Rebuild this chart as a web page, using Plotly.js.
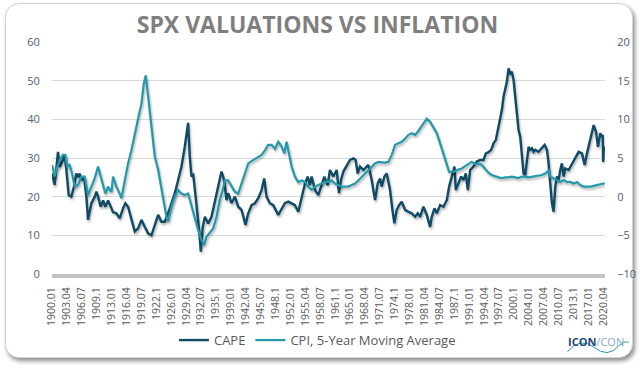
<!DOCTYPE html>
<html>
<head>
<meta charset="utf-8">
<script src="https://cdn.plot.ly/plotly-3.0.1.min.js"></script>
<style>
  html, body { margin: 0; padding: 0; background: #ffffff; }
  #wrap { position: relative; width: 640px; height: 370px; overflow: hidden; }
  #card { position: absolute; left: 5px; top: 3px; width: 626px; height: 353px;
          border: 1px solid #d4d4d4; border-radius: 14px; background: #ffffff;
          box-shadow: 2px 3px 4px rgba(0,0,0,0.45); }
  #chart { position: absolute; left: 0; top: 0; width: 640px; height: 370px; }
  #chart .scatterlayer .js-line { filter: drop-shadow(1.5px 2px 1.2px rgba(0,0,0,0.30)); }
</style>
</head>
<body>
<div id="wrap">
  <div id="card"></div>
  <div id="chart"></div>
</div>
<script>
// ---- data ----
const capeYears = [1900.0,1900.58,1901.31,1901.67,1902.4,1902.77,1903.13,1903.64,1904.22,1904.8,1905.31,1905.68,1906.04,1906.4,1906.99,1907.5,1907.86,1908.59,1909.32,1909.68,1910.04,1910.63,1911.14,1911.64,1912.23,1912.81,1913.32,1914.05,1914.77,1915.5,1916.01,1916.59,1917.32,1918.05,1918.78,1919.5,1920.23,1920.96,1921.69,1922.42,1923.14,1923.87,1924.6,1925.32,1926.05,1926.78,1927.51,1928.23,1928.96,1929.33,1929.69,1930.05,1930.42,1930.78,1931.15,1931.73,1932.16,1932.46,1932.89,1933.33,1934.06,1934.78,1935.51,1936.24,1936.97,1937.55,1938.06,1938.42,1939.15,1939.88,1940.61,1941.33,1942.21,1942.79,1943.52,1944.25,1944.97,1945.7,1946.28,1946.79,1947.52,1948.25,1949.34,1950.07,1950.8,1951.53,1952.25,1952.98,1953.71,1954.44,1955.17,1955.75,1956.26,1956.62,1957.35,1958.08,1958.8,1959.39,1960.11,1960.62,1961.35,1962.08,1962.59,1963.03,1963.54,1964.26,1964.99,1965.72,1966.23,1966.66,1967.17,1967.9,1968.63,1968.99,1969.72,1970.45,1971.03,1971.54,1971.91,1972.49,1973.0,1973.73,1974.24,1974.67,1975.18,1975.69,1976.27,1977.0,1977.73,1978.46,1979.19,1979.77,1980.28,1981.0,1981.73,1982.46,1982.82,1983.41,1983.92,1984.64,1985.37,1986.1,1986.61,1987.19,1987.77,1988.06,1988.65,1989.23,1989.74,1990.25,1990.69,1991.19,1991.92,1992.65,1993.38,1994.11,1994.62,1995.2,1995.78,1996.29,1996.8,1997.24,1997.75,1998.11,1998.48,1998.84,1999.2,1999.57,1999.93,2000.29,2000.66,2001.02,2001.39,2001.75,2002.11,2002.48,2002.84,2003.21,2003.57,2003.93,2004.3,2004.66,2005.03,2005.39,2006.12,2006.84,2007.43,2007.94,2008.3,2008.66,2009.03,2009.39,2009.76,2010.12,2010.48,2010.85,2011.21,2011.58,2011.94,2012.67,2013.4,2014.12,2014.85,2015.58,2016.16,2016.67,2017.4,2018.13,2018.64,2019.07,2019.58,2019.95,2020.1,2020.2,2020.3,2020.45];
const capeValues = [26,23,31.6,27.7,29.5,30.8,27,20.4,20,22.6,26,25,26,24.3,25,20,14,18.3,20,21.3,20,17.4,19,17.4,19,17.4,16,15.7,14.4,17,18.3,17.4,14,11,11.8,14,12.2,10.5,10,12.7,15.3,13.5,13.5,15.7,18.3,20.9,24.3,27.8,32.9,35.5,39.1,30.3,25.2,26,21.7,16.6,10.5,5.8,12.2,14.8,13.1,14.8,19.1,22.6,26.5,24.3,19.1,20.9,18.3,20,17.4,16.6,12.7,15.7,17.8,18.3,19.6,21.7,24.7,20,18.3,17.8,15.3,17,18.3,18.7,18.3,17.8,16.1,20,23.4,25.2,23,25.2,21.7,20.4,23.4,25.2,23,26.9,25.2,26.9,20.9,24.3,26.5,28.2,29.5,29.9,29.5,26,27.8,26.9,27.8,28.2,24.3,19.1,23.4,24.7,22.6,25.2,26,21.7,16.6,13.1,16.6,17.8,18.7,16.6,16.1,15.7,14.8,15.7,14.8,17.4,15.3,12.2,14.8,17,15.7,17.8,17.4,19.1,22.6,25.2,27.8,21.7,23.4,25.2,24.3,26,21.7,26.9,27.8,29.1,29.5,29.5,31.2,31.5,32.1,33.8,34.7,37.2,39.8,42.4,45.9,47.6,49.7,53.2,51.9,52.3,50.2,45.9,40.7,37.2,35.5,31.2,26,25.6,29.5,32.9,32.1,32.5,31.6,32.1,31.6,32.5,33.4,32.1,28.6,23.4,18.3,16.1,22.6,25.2,24.3,26.9,28.6,25.2,27.3,26.9,28.6,30.3,31.6,31.2,28.2,31.2,34.7,38.5,36.8,32.9,36.4,35.5,36,29,31.5,33];

const cpiYears = [1900.0,1900.58,1901.16,1901.67,1902.4,1902.91,1903.35,1903.86,1904.37,1904.95,1905.68,1906.4,1907.13,1907.86,1908.59,1909.32,1910.04,1910.63,1911.14,1911.64,1912.23,1912.95,1913.32,1914.05,1914.77,1915.14,1915.87,1916.59,1917.32,1918.05,1918.78,1919.5,1920.01,1920.45,1920.96,1921.69,1922.42,1923.14,1924.2,1924.96,1925.32,1926.05,1926.78,1927.51,1928.23,1928.96,1929.69,1930.42,1931.15,1931.87,1932.6,1933.18,1933.69,1934.42,1935.15,1935.88,1936.6,1937.33,1937.7,1938.42,1939.15,1939.88,1940.61,1941.33,1942.06,1942.79,1943.52,1944.25,1944.97,1945.7,1946.43,1947.16,1947.9,1948.62,1949.34,1950.07,1950.65,1951.16,1951.67,1952.25,1952.98,1953.71,1954.44,1955.17,1955.89,1956.62,1957.35,1958.08,1958.8,1959.53,1960.26,1960.99,1961.72,1962.44,1963.17,1963.9,1964.63,1965.36,1966.08,1966.81,1967.54,1968.27,1969.0,1969.72,1970.45,1971.18,1971.91,1972.64,1973.36,1974.09,1974.82,1975.55,1976.27,1977.0,1977.73,1978.46,1979.19,1979.77,1980.28,1981.0,1981.73,1982.46,1983.19,1983.92,1984.64,1985.37,1986.1,1986.61,1987.19,1987.92,1988.65,1989.37,1990.1,1990.83,1991.56,1992.29,1993.01,1993.74,1994.47,1995.2,1995.93,1996.66,1997.38,1998.11,1998.84,1999.57,2000.29,2001.02,2001.75,2002.48,2003.21,2003.93,2004.66,2005.39,2006.12,2006.84,2007.57,2008.3,2008.66,2009.39,2010.12,2010.85,2011.58,2012.3,2013.03,2013.76,2014.49,2015.21,2015.94,2016.67,2017.4,2018.13,2018.85,2019.58,2020.31,2020.45];
const cpiValues = [4.1,2.6,3.9,4.7,5.4,5.4,3.9,4.1,3.0,1.3,1.5,2.6,2.6,0.2,1.3,2.4,3.9,2.6,1.3,0.4,1.3,0.6,2.6,1.3,0.4,-0.2,2.1,4.3,6.0,8.2,10.1,12.0,14.6,15.7,12.9,8.6,5.2,3.5,0,-2.6,-3.2,-1.3,0,0.85,0.4,0.2,0.4,-1.3,-3.0,-4.3,-5.6,-6.25,-5.2,-4.7,-4.1,-2.6,-0.4,1.1,2.1,2.1,1.3,0.65,0.4,1.7,3.0,4.3,4.6,4.9,5.2,5.4,6.0,6.7,6.7,6.2,7.1,6.5,5.6,7.1,5.6,3.9,2.6,1.9,2.1,1.9,1.3,0.9,1.3,1.5,1.7,1.9,1.9,2.1,1.7,1.5,1.3,1.3,1.3,1.5,1.7,2.1,2.6,3.0,3.4,3.9,4.3,4.5,4.4,4.4,4.5,5.4,6.7,6.9,7.1,7.5,8.0,8.2,8.0,8.4,8.8,9.5,10.1,9.7,9.0,8.2,6.9,5.4,4.1,3.2,3.2,3.3,3.5,3.65,3.95,4.2,4.5,4.2,4.3,4.1,3.65,3.1,2.8,2.6,2.5,2.4,2.5,2.5,2.6,2.5,2.4,2.6,2.6,2.5,2.6,2.7,2.8,2.8,3.0,3.4,2.6,2.4,2.15,1.9,2.15,1.9,1.9,1.7,1.9,1.5,1.3,1.3,1.3,1.4,1.5,1.6,1.7,1.6];

const tickLabels = ["1900.01","1903.04","1906.07","1909.1","1913.01","1916.04","1919.07","1922.1","1926.01","1929.04","1932.07","1935.1","1939.01","1942.04","1945.07","1948.1","1952.01","1955.04","1958.07","1961.1","1965.01","1968.04","1971.07","1974.1","1978.01","1981.04","1984.07","1987.1","1991.01","1994.04","1997.07","2000.1","2004.01","2007.04","2010.07","2013.1","2017.01","2020.04"];
const leftTicks = [0,10,20,30,40,50,60];
const rightTicks = [-10,-5,0,5,10,15,20];

// tick positions derived from the labels (year.month, month written without trailing zero)
const tickVals = tickLabels.map(s => {
  const parts = s.split('.');
  const m = parseInt(parts[1].padEnd(2, '0'), 10);
  return parseInt(parts[0], 10) + (m - 1) / 12;
});

const CAPE_COLOR = '#0f4a66';
const CPI_COLOR = '#2399ab';

const traces = [
  { x: capeYears, y: capeValues, name: 'CAPE', type: 'scatter', mode: 'lines',
    line: { color: CAPE_COLOR, width: 2.4 }, yaxis: 'y', hoverinfo: 'skip' },
  { x: cpiYears, y: cpiValues, name: 'CPI, 5-Year Moving Average', type: 'scatter', mode: 'lines',
    line: { color: CPI_COLOR, width: 2.2 }, yaxis: 'y2', hoverinfo: 'skip' }
];

const axisFont = { family: 'Open Sans, sans-serif', size: 11, color: '#4f5d73' };

const layout = {
  width: 640, height: 370,
  margin: { l: 52, r: 35, t: 42, b: 96 },
  paper_bgcolor: 'rgba(0,0,0,0)',
  plot_bgcolor: 'rgba(0,0,0,0)',
  showlegend: true,
  title: { text: 'SPX VALUATIONS VS INFLATION', x: 0.496, xanchor: 'center', y: 0.932, yanchor: 'middle',
           font: { family: 'Open Sans, sans-serif', size: 23, color: '#7f7f7f', weight: 'bold' } },
  xaxis: {
    range: [1900, 2020.6], showgrid: false, zeroline: false,
    showline: true, linecolor: '#c3c3c3', linewidth: 4,
    tickmode: 'array', tickvals: tickVals, ticktext: tickLabels, tickangle: -90,
    ticks: 'outside', ticklen: 5, tickcolor: 'rgba(0,0,0,0)',
    tickfont: { family: 'Open Sans, sans-serif', size: 10.5, color: '#595959' }
  },
  yaxis: {
    range: [0, 60], tickmode: 'array', tickvals: leftTicks, showgrid: true, gridcolor: '#d9d9d9', gridwidth: 1,
    zeroline: false, showline: false, ticks: 'outside', ticklen: 9, tickcolor: 'rgba(0,0,0,0)',
    tickfont: axisFont
  },
  yaxis2: {
    range: [-10, 20], tickmode: 'array', tickvals: rightTicks, overlaying: 'y', side: 'right',
    showgrid: false, zeroline: false, showline: false, ticks: 'outside', ticklen: 9, tickcolor: 'rgba(0,0,0,0)',
    tickfont: axisFont
  },
  legend: { orientation: 'h', x: 0.48, xanchor: 'center', y: -0.285, yanchor: 'middle',
            font: { family: 'Open Sans, sans-serif', size: 13, color: '#595959' },
            bgcolor: 'rgba(0,0,0,0)', itemwidth: 30 },
  annotations: [
    { xref: 'paper', yref: 'paper', x: 1.038, y: -0.292, xanchor: 'right', yanchor: 'middle', showarrow: false,
      text: "<b><span style='color:#1c4b74'>ICON</span></b><span style='color:#8aa6c4'>/CON</span>",
      font: { family: 'Open Sans, sans-serif', size: 11 } }
  ],
  shapes: [
    { type: 'path', xref: 'paper', yref: 'paper',
      path: 'M 0.932,-0.335 Q 0.955,-0.27 0.98,-0.315 Q 1.005,-0.365 1.025,-0.31 Q 1.035,-0.285 1.043,-0.295',
      line: { color: '#2a9aab', width: 1 } }
  ]
};

Plotly.newPlot('chart', traces, layout, { displayModeBar: false, staticPlot: true });
</script>
</body>
</html>
